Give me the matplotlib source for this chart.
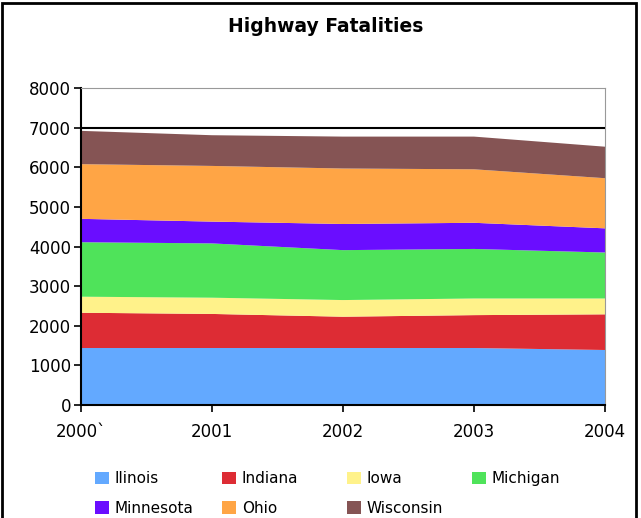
import numpy as np
import matplotlib
matplotlib.use("Agg")
import matplotlib.pyplot as plt
from matplotlib.patches import Rectangle, Patch

# jahre und werte (aus dem bild geschaetzt)
years = [2000, 2001, 2002, 2003, 2004]
year_labels = ["2000`", "2001", "2002", "2003", "2004"]
states = ["Ilinois", "Indiana", "Iowa", "Michigan", "Minnesota", "Ohio", "Wisconsin"]
illinois = [1440, 1440, 1440, 1440, 1390]
indiana = [890, 860, 790, 830, 900]
iowa = [405, 410, 420, 420, 400]
michigan = [1375, 1370, 1260, 1250, 1160]
minnesota = [590, 550, 660, 660, 610]
ohio = [1380, 1405, 1400, 1350, 1265]
wisconsin = [840, 775, 805, 825, 795]
colors = ["#63A9FF", "#DD2C34", "#FFF28A", "#4FE35A", "#6A0DFF", "#FFA545", "#855454"]

fig = plt.figure(figsize=(6.41, 5.18), dpi=100)
fig.patch.set_facecolor("white")
ax = fig.add_axes([0.126, 0.218, 0.818, 0.612])

ax.stackplot(years, illinois, indiana, iowa, michigan, minnesota, ohio, wisconsin,
             colors=colors, linewidth=0)
ax.axhline(7000, color="black", lw=1.5, zorder=3)

ax.set_xlim(2000, 2004)
ax.set_ylim(0, 8000)
ax.set_xticks(years)
ax.set_xticklabels(year_labels)
ax.set_yticks(range(0, 8001, 1000))
ax.tick_params(axis="both", direction="out", length=5, width=1.2, labelsize=12, pad=2)
ax.tick_params(axis="x", pad=8)
for s in ["top", "right"]:
    ax.spines[s].set_color("#999999")
for s in ["left", "bottom"]:
    ax.spines[s].set_linewidth(1.5)

fig.text(0.508, 0.948, "Highway Fatalities", ha="center", va="center",
         fontsize=13.5, fontweight="bold")

# legende: eine legende pro spalte, damit die abstaende passen
handles = [Patch(facecolor=c, edgecolor="none") for c in colors]
columns = [[0, 4], [1, 5], [2, 6], [3]]
col_x = [95, 222, 347, 472]
for idx, x in zip(columns, col_x):
    fig.legend([handles[i] for i in idx], [states[i] for i in idx],
               loc="upper left", bbox_to_anchor=(x / 641, 0.090),
               frameon=False, fontsize=11, handlelength=0.9, handleheight=0.9,
               handletextpad=0.4, labelspacing=0.95,
               borderaxespad=0, borderpad=0)

# schwarzer rahmen
fig.patches.append(Rectangle((0.003, -0.05), 0.989, 1.045, transform=fig.transFigure,
                             fill=False, edgecolor="black", lw=2))

fig.savefig("out.png", dpi=100)
